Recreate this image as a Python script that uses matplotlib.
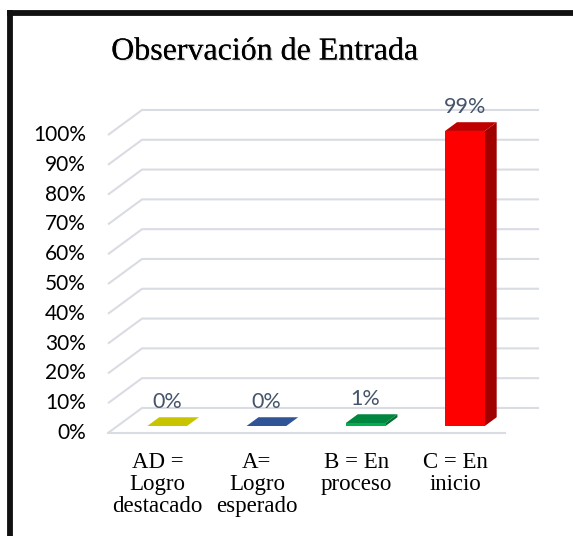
import matplotlib
matplotlib.use("Agg")
import matplotlib.pyplot as plt
from matplotlib.patches import Polygon
from matplotlib.lines import Line2D
import matplotlib.patheffects as pe

# data
categories = ["AD =\nLogro\ndestacado", "A=\nLogro\nesperado", "B = En\nproceso", "C = En\ninicio"]
values = [0, 0, 1, 99]
value_labels = ["0%", "0%", "1%", "99%"]
y_ticks = [0, 10, 20, 30, 40, 50, 60, 70, 80, 90, 100]
front_colors = ["#C8C400", "#2F5597", "#00B050", "#FF0000"]
top_colors = ["#C8C400", "#2F5597", "#00863F", "#C00000"]
side_colors = ["#A8A400", "#24447A", "#00702F", "#A00000"]

title = "Observación de Entrada"

# fake 3D: depth offset of the back wall in data units
DX = 0.343
DY = 8.4
D0, D1 = 0.28, 0.63   # bar depth slab (fraction of floor depth)
W = 0.40              # bar width

fig = plt.figure(figsize=(5.73, 5.36), dpi=100)
ax = fig.add_axes([0, 0, 1, 1])
ax.set_xlim(-1.588, 4.185)
ax.set_ylim(-34.56, 145.3)
ax.axis("off")

grid_col = "#D9DCE3"
for t in y_ticks:
    ax.plot([-0.5, -0.5 + DX, 3.5 + DX], [t, t + DY, t + DY],
            color=grid_col, lw=1.5, zorder=1, solid_capstyle="butt")
    ax.text(-0.5 - 0.22, t, f"{t}%", ha="right", va="center",
            fontsize=15, family="Lato", color="black")
ax.plot([-0.5, 3.5], [0, 0], color=grid_col, lw=1.5, zorder=1)

for i, v in enumerate(values):
    x0 = i - W / 2 + D0 * DX
    x1 = x0 + W
    bx = (D1 - D0) * DX
    y0 = D0 * DY
    by = (D1 - D0) * DY
    y1 = y0 + v
    # side and front faces
    if v > 0:
        ax.add_patch(Polygon([(x1, y0), (x1 + bx, y0 + by), (x1 + bx, y1 + by), (x1, y1)],
                             closed=True, facecolor=side_colors[i], edgecolor="none", zorder=2))
        ax.add_patch(Polygon([(x0, y0), (x1, y0), (x1, y1), (x0, y1)],
                             closed=True, facecolor=front_colors[i], edgecolor="none", zorder=3))
    # top face
    ax.add_patch(Polygon([(x0, y1), (x1, y1), (x1 + bx, y1 + by), (x0 + bx, y1 + by)],
                         closed=True, facecolor=top_colors[i], edgecolor="none", zorder=4))
    ax.text(i + D0 * DX, v + D1 * DY + 5.2, value_labels[i], ha="center", va="center",
            fontsize=15.5, family="Lato", color="#44546A", zorder=5)

    ax.text(i, -6.3, categories[i], ha="center", va="top", fontsize=16.5,
            family="Liberation Serif", linespacing=1.08, color="black")

ax.text(265 / 573, 1 - 52 / 536, title, transform=ax.transAxes, ha="center", va="center",
        fontsize=23, family="Liberation Serif", color="black",
        path_effects=[pe.withSimplePatchShadow(offset=(1, -1), shadow_rgbFace="#909090", alpha=0.25),
                      pe.Normal()])

# outer frame (only top and left edges fall inside the image)
fx = 9.5 / 573
fy = 1 - 13 / 536
fig.add_artist(Line2D([fx, fx], [-0.05, fy], color="#111111", lw=4.2, transform=fig.transFigure))
fig.add_artist(Line2D([fx, 1.05], [fy, fy], color="#111111", lw=4.2, transform=fig.transFigure,
                      solid_capstyle="projecting"))

fig.savefig("out.png", dpi=100, facecolor="white")
